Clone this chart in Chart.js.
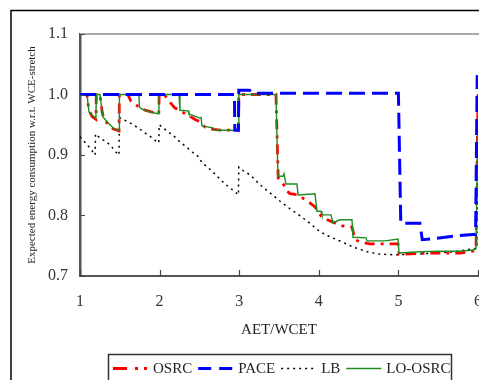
<!DOCTYPE html>
<html>
<head>
<meta charset="utf-8">
<script src="https://cdn.jsdelivr.net/npm/chart.js@4.4.0/dist/chart.umd.min.js"></script>
<style>
  html, body { margin: 0; padding: 0; background: #fff; }
  canvas { display: block; }
</style>
</head>
<body>
<canvas id="chart" width="479" height="380"></canvas>
<script>
// values
const osrcX = [1.0, 1.088, 1.11, 1.15, 1.2, 1.205, 1.251, 1.28, 1.3, 1.34, 1.38, 1.42, 1.49, 1.495, 1.6, 1.64, 1.754, 1.817, 1.905, 1.99, 1.995, 2.06, 2.118, 2.19, 2.256, 2.38, 2.457, 2.508, 2.57, 2.633, 2.76, 2.99, 2.995, 3.462, 3.49, 3.513, 3.563, 3.613, 3.638, 3.739, 3.877, 3.952, 3.99, 4.04, 4.178, 4.279, 4.417, 4.455, 4.53, 4.643, 4.995, 5.008, 5.4, 5.77, 5.937, 5.975, 6.0];
const osrcY = [1.0, 1.0, 0.975, 0.964, 0.959, 1.0, 1.0, 0.970, 0.960, 0.953, 0.947, 0.943, 0.940, 1.0, 1.0, 0.989, 0.978, 0.974, 0.971, 0.968, 1.0, 1.0, 0.989, 0.978, 0.973, 0.964, 0.958, 0.955, 0.946, 0.943, 0.941, 0.941, 1.0, 1.0, 0.862, 0.859, 0.850, 0.839, 0.836, 0.834, 0.822, 0.814, 0.807, 0.797, 0.789, 0.783, 0.781, 0.760, 0.756, 0.753, 0.753, 0.736, 0.738, 0.738, 0.741, 0.743, 1.0];

const paceX = [1.0, 2.94, 2.945, 2.99, 2.995, 3.13, 3.17, 5.0, 5.03, 5.15, 5.27, 5.3, 5.46, 5.77, 5.97, 5.99];
const paceY = [1.0, 1.0, 0.941, 0.941, 1.007, 1.007, 1.002, 1.002, 0.787, 0.787, 0.787, 0.760, 0.762, 0.767, 0.769, 1.032];

const lbX = [1.0, 1.07, 1.14, 1.19, 1.195, 1.26, 1.34, 1.4, 1.45, 1.49, 1.495, 1.6, 1.67, 1.75, 1.82, 1.89, 1.955, 1.99, 1.995, 2.04, 2.13, 2.19, 2.26, 2.34, 2.41, 2.48, 2.53, 2.6, 2.67, 2.73, 2.8, 2.87, 2.95, 2.99, 2.995, 3.06, 3.14, 3.26, 3.39, 3.51, 3.64, 3.78, 3.86, 3.99, 4.1, 4.23, 4.43, 4.61, 4.77, 4.98, 5.36, 5.69, 5.94, 5.985, 6.0];
const lbY = [0.930, 0.920, 0.909, 0.900, 0.935, 0.927, 0.921, 0.913, 0.905, 0.900, 0.962, 0.955, 0.950, 0.943, 0.936, 0.930, 0.923, 0.920, 0.950, 0.945, 0.936, 0.930, 0.921, 0.913, 0.905, 0.898, 0.888, 0.880, 0.872, 0.864, 0.855, 0.847, 0.839, 0.834, 0.880, 0.873, 0.867, 0.851, 0.837, 0.824, 0.811, 0.798, 0.790, 0.776, 0.767, 0.760, 0.748, 0.740, 0.736, 0.735, 0.737, 0.740, 0.745, 0.746, 1.0];

const looX = [1.0, 1.088, 1.113, 1.151, 1.2, 1.205, 1.251, 1.276, 1.289, 1.339, 1.377, 1.415, 1.477, 1.49, 1.495, 1.741, 1.747, 1.779, 1.879, 1.99, 1.995, 2.244, 2.256, 2.357, 2.369, 2.508, 2.52, 2.533, 2.671, 2.696, 2.99, 2.995, 3.462, 3.487, 3.55, 3.563, 3.588, 3.726, 3.739, 3.952, 3.977, 4.028, 4.04, 4.153, 4.178, 4.266, 4.417, 4.43, 4.593, 4.606, 4.832, 4.995, 5.008, 5.271, 5.523, 5.774, 5.937, 5.975, 6.0];
const looY = [1.0, 1.0, 0.971, 0.966, 0.961, 1.0, 1.0, 0.974, 0.963, 0.955, 0.950, 0.945, 0.941, 0.941, 1.0, 1.0, 0.979, 0.976, 0.971, 0.968, 1.0, 1.0, 0.974, 0.973, 0.968, 0.961, 0.963, 0.948, 0.945, 0.941, 0.941, 1.0, 1.0, 0.865, 0.865, 0.869, 0.852, 0.852, 0.834, 0.836, 0.807, 0.807, 0.801, 0.801, 0.788, 0.793, 0.793, 0.764, 0.763, 0.758, 0.758, 0.761, 0.738, 0.740, 0.741, 0.741, 0.743, 0.745, 1.0];

const seriesLabels = ['OSRC', 'PACE', 'LB', 'LO-OSRC'];
const xTitle = 'AET/WCET';
const yTitle = 'Expected energy consumption w.r.t. WCE-stretch';

const SERIF = "'Liberation Serif', 'DejaVu Serif', serif";

function pts(xs, ys) {
    return xs.map((x, i) => ({ x: x, y: ys[i] }));
}

// outer figure frame, only top and left edges are in the picture
const framePlugin = {
    id: 'frame',
    beforeDraw(chart) {
        const ctx = chart.ctx;
        ctx.save();
        ctx.fillStyle = '#fff';
        ctx.fillRect(0, 0, chart.width, chart.height);
        ctx.strokeStyle = '#000';
        ctx.lineWidth = 1.5;
        ctx.beginPath();
        ctx.moveTo(11, chart.height + 5);
        ctx.lineTo(11, 10.5);
        ctx.lineTo(chart.width + 5, 10.5);
        ctx.stroke();
        ctx.restore();
    }
};

// inward tick marks and the light top border of the plot
const innerTicks = {
    id: 'innerTicks',
    afterDatasetsDraw(chart) {
        const ctx = chart.ctx;
        const area = chart.chartArea;
        const xs = chart.scales.x, ys = chart.scales.y;
        ctx.save();
        ctx.strokeStyle = '#aaa';
        ctx.lineWidth = 2;
        ctx.beginPath();
        ctx.moveTo(area.left, area.top);
        ctx.lineTo(area.right + 2, area.top);
        ctx.stroke();
        ctx.strokeStyle = '#444';
        ctx.lineWidth = 1.2;
        ctx.beginPath();
        ys.ticks.forEach(t => {
            const py = Math.round(ys.getPixelForValue(t.value)) + 0.5;
            ctx.moveTo(area.left, py);
            ctx.lineTo(area.left + 5, py);
        });
        xs.ticks.forEach(t => {
            const px = Math.round(xs.getPixelForValue(t.value)) + 0.5;
            ctx.moveTo(px, area.bottom);
            ctx.lineTo(px, area.bottom - 6);
        });
        ctx.stroke();
        ctx.restore();
    }
};

// boxed legend below the axis title
const boxLegend = {
    id: 'boxLegend',
    afterDraw(chart) {
        const ctx = chart.ctx;
        ctx.save();
        ctx.strokeStyle = '#333';
        ctx.lineWidth = 1.5;
        ctx.strokeRect(108.5, 354.5, 343, 40);
        ctx.font = '15px ' + SERIF;
        ctx.textBaseline = 'middle';
        ctx.fillStyle = '#222';
        let x = 113;
        const y = 368.5;
        chart.data.datasets.forEach(ds => {
            ctx.save();
            ctx.strokeStyle = ds.borderColor;
            ctx.lineWidth = ds.legendWidth || ds.borderWidth;
            ctx.setLineDash(ds.legendDash || ds.borderDash || []);
            ctx.beginPath();
            ctx.moveTo(x, y);
            ctx.lineTo(x + 35, y);
            ctx.stroke();
            ctx.restore();
            x += 40;
            ctx.fillText(ds.label, x, y + 1);
            x += ctx.measureText(ds.label).width + 6;
        });
        ctx.restore();
    }
};

new Chart(document.getElementById('chart'), {
    type: 'line',
    data: {
        datasets: [
            {
                label: seriesLabels[0],
                data: pts(osrcX, osrcY),
                borderColor: '#ff0000',
                borderWidth: 2.8,
                borderDash: [10, 6, 3, 6],
                legendWidth: 3,
                legendDash: [14, 8, 3, 6, 3, 8],
                order: 2
            },
            {
                label: seriesLabels[1],
                data: pts(paceX, paceY),
                borderColor: '#0000ff',
                borderWidth: 3,
                borderDash: [16, 7],
                legendDash: [13, 8],
                order: 0
            },
            {
                label: seriesLabels[2],
                data: pts(lbX, lbY),
                borderColor: '#000',
                borderWidth: 1.5,
                borderDash: [2, 4],
                order: 3
            },
            {
                label: seriesLabels[3],
                data: pts(looX, looY),
                borderColor: '#1e8c1e',
                borderWidth: 1.4,
                order: 1
            }
        ]
    },
    options: {
        responsive: false,
        animation: false,
        elements: {
            point: { radius: 0 },
            line: { tension: 0, fill: false, borderCapStyle: 'butt' }
        },
        layout: { padding: { left: 0, top: 34, right: 1, bottom: 0 } },
        plugins: {
            legend: { display: false },
            tooltip: { enabled: false }
        },
        scales: {
            x: {
                type: 'linear',
                min: 1,
                max: 6,
                ticks: {
                    stepSize: 1,
                    padding: 16,
                    color: '#333',
                    font: { family: SERIF, size: 16 }
                },
                grid: { display: false, drawTicks: false },
                border: { display: true, color: '#555', width: 2 },
                title: {
                    display: true,
                    text: xTitle,
                    color: '#222',
                    font: { family: SERIF, size: 15 },
                    padding: { top: 0, bottom: 41 }
                },
                afterFit(scale) {
                    scale.height = 104;
                    scale.paddingLeft = 0;
                    scale.paddingRight = 0;
                }
            },
            y: {
                min: 0.7,
                max: 1.1,
                ticks: {
                    stepSize: 0.1,
                    padding: 12,
                    color: '#333',
                    font: { family: SERIF, size: 16 }
                },
                grid: { display: false, drawTicks: false },
                border: { display: true, color: '#555', width: 2.5 },
                title: {
                    display: true,
                    text: yTitle,
                    color: '#222',
                    font: { family: SERIF, size: 11 },
                    padding: { top: 26, bottom: 0 }
                },
                afterFit(scale) {
                    scale.width = 80;
                    scale.paddingTop = 0;
                    scale.paddingBottom = 0;
                }
            }
        }
    },
    plugins: [framePlugin, innerTicks, boxLegend]
});
</script>
</body>
</html>
